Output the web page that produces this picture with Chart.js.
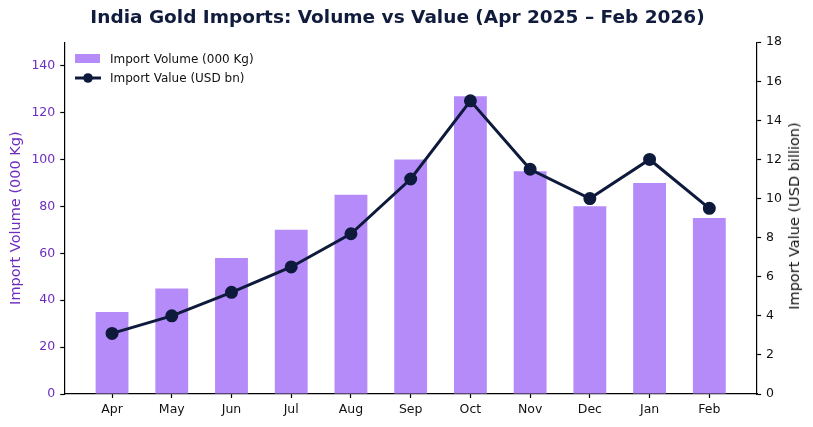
<!DOCTYPE html>
<html>
<head>
<meta charset="utf-8">
<script src="https://cdn.jsdelivr.net/npm/chart.js@4.4.1/dist/chart.umd.min.js"></script>
<style>
  html, body { margin: 0; padding: 0; background: #fff; }
  #wrap { position: relative; width: 813px; height: 427px; font-family: 'DejaVu Sans', sans-serif; }
  .legend { position: absolute; left: 75px; top: 49px; font-size: 12px; color: #111; }
  .legend div { display: flex; align-items: center; height: 19px; }
  .legend .swatch { width: 25px; height: 9px; background: #b58bfa; margin-right: 10px; }
  .legend svg { margin-right: 9px; }
  .rtitle { position: absolute; left: 794px; top: 216px; transform: translate(-50%, -50%) rotate(-90deg);
            white-space: nowrap; font-size: 14.5px; color: #111; }
</style>
</head>
<body>
<div id="wrap">
  <canvas id="chart"></canvas>
  <div class="legend">
    <div><span class="swatch"></span>Import Volume (000 Kg)</div>
    <div><svg width="26" height="12"><line x1="0" y1="6" x2="26" y2="6" stroke="#0e1a3c" stroke-width="3"/><circle cx="13" cy="6" r="4.8" fill="#0e1a3c"/></svg>Import Value (USD bn)</div>
  </div>
  <div class="rtitle">Import Value (USD billion)</div>
</div>
<script>
const months = ['Apr', 'May', 'Jun', 'Jul', 'Aug', 'Sep', 'Oct', 'Nov', 'Dec', 'Jan', 'Feb'];
const volume = [35, 45, 58, 70, 85, 100, 127, 95, 80, 90, 75];
const value = [3.1, 4.0, 5.2, 6.5, 8.2, 11.0, 15.0, 11.5, 10.0, 12.0, 9.5];

const barColor = '#b58bfa';
const lineColor = '#0e1a3c';
const purple = '#6e2cbf';
const font = 'DejaVu Sans';

const axisTicks = (color) => ({
  display: true,
  drawOnChartArea: false,
  drawTicks: true,
  tickLength: 4,
  tickWidth: 1.2,
  color: color
});

new Chart(document.getElementById('chart'), {
  data: {
    datasets: [
      {
        type: 'line',
        label: 'Import Value (USD bn)',
        data: value.map((v, i) => ({ x: i, y: v })),
        yAxisID: 'y1',
        borderColor: lineColor,
        backgroundColor: lineColor,
        borderWidth: 3,
        pointRadius: 5,
        pointHoverRadius: 5,
        tension: 0,
        order: 0
      },
      {
        type: 'bar',
        label: 'Import Volume (000 Kg)',
        data: volume.map((v, i) => ({ x: i, y: v })),
        yAxisID: 'y',
        backgroundColor: barColor,
        borderWidth: 0,
        categoryPercentage: 1,
        barPercentage: 0.55,
        order: 1
      }
    ]
  },
  options: {
    responsive: true,
    maintainAspectRatio: false,
    animation: false,
    layout: { padding: { left: 8, right: 26, top: 7, bottom: 6 } },
    plugins: {
      title: {
        display: true,
        text: 'India Gold Imports: Volume vs Value (Apr 2025 – Feb 2026)',
        color: '#111c3d',
        font: { family: font, size: 18.5, weight: 'bold' },
        padding: { top: 0, bottom: 13 }
      },
      legend: { display: false },
      tooltip: { enabled: false }
    },
    scales: {
      x: {
        type: 'linear',
        min: -0.8,
        max: 10.8,
        bounds: 'data',
        offset: false,
        grid: { ...axisTicks('#000'), offset: false },
        border: { display: true, color: '#000', width: 1.2 },
        ticks: {
          color: '#111',
          font: { family: font, size: 12.5 },
          padding: 4,
          maxRotation: 0,
          callback: (v) => months[v]
        },
        afterBuildTicks: (scale) => {
          scale.ticks = months.map((_, i) => ({ value: i }));
        }
      },
      y: {
        position: 'left',
        min: 0,
        max: 150,
        grid: axisTicks('#000'),
        border: { display: true, color: '#000', width: 1.2 },
        ticks: {
          stepSize: 20,
          color: purple,
          font: { family: font, size: 12.5 },
          padding: 5
        },
        afterBuildTicks: (scale) => {
          scale.ticks = scale.ticks.filter(t => t.value <= 140);
        },
        title: {
          display: true,
          text: 'Import Volume (000 Kg)',
          color: purple,
          font: { family: font, size: 14.5 },
          padding: { top: 0, bottom: 1 }
        }
      },
      y1: {
        position: 'right',
        min: 0,
        max: 18,
        grid: axisTicks('#000'),
        border: { display: true, color: '#000', width: 1.2 },
        ticks: {
          stepSize: 2,
          color: '#111',
          font: { family: font, size: 12.5 },
          padding: 5
        }
      }
    }
  }
});
</script>
</body>
</html>
